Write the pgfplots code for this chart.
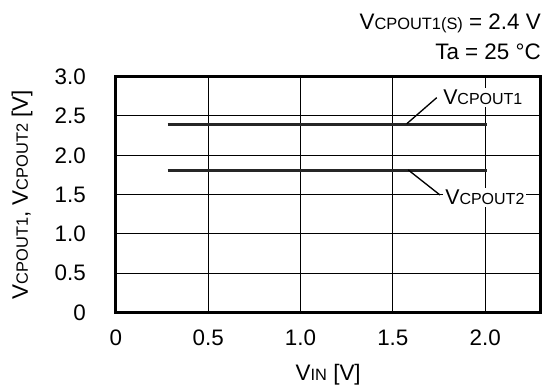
\documentclass[border=0pt]{standalone}
\usepackage{fontspec}
\setmainfont{Liberation Sans}
\usepackage{pgfplots}
\pgfplotsset{compat=1.18}
\newcommand{\mainsize}{\fontsize{16.8}{16.8}\selectfont}
\newcommand{\sub}[1]{{\fontsize{12.3}{12.3}\selectfont #1}}
\newcommand{\lsub}[1]{{\fontsize{12}{12}\selectfont #1}}
\begin{document}
\begin{tikzpicture}
\useasboundingbox (0,0) rectangle (407.25pt,288.75pt);
\begin{axis}[
  at={(86.85pt,54.375pt)}, anchor=south west,
  scale only axis, width=318.6pt, height=176.85pt,
  xmin=0, xmax=2.3, ymin=0, ymax=3,
  xtick={0,0.5,1,1.5,2}, ytick={0,0.5,1,1.5,2,2.5,3},
  xticklabels={0,0.5,1.0,1.5,2.0},
  yticklabels={0,0.5,1.0,1.5,2.0,2.5,3.0},
  grid=major, grid style={black, line width=0.75pt},
  major tick length=0pt,
  axis line style={line width=2pt},
  ticklabel style={font=\mainsize},
  /pgf/number format/assume math mode=true,
  xticklabel style={yshift=-9.5pt},
  yticklabel style={xshift=-19pt},
  xlabel={V\sub{IN} [V]},
  ylabel={V\sub{CPOUT1}, V\sub{CPOUT2} [V]},
  label style={font=\mainsize},
  xlabel style={at={(axis description cs:0.5,0)}, anchor=base, yshift=-51pt},
  ylabel style={at={(axis description cs:-0.2208,0.5)}, anchor=center},
  clip=false,
]
\addplot[line width=2.4pt, black!85] coordinates {(0.28,2.39) (0.5,2.39) (1.0,2.39) (1.5,2.39) (2.0,2.39) (2.01,2.39)};
\addplot[line width=2.4pt, black!85] coordinates {(0.28,1.81) (0.5,1.81) (1.0,1.81) (1.5,1.81) (2.0,1.81) (2.01,1.81)};
\end{axis}
\begin{scope}[x=0.75pt,y=-0.75pt,shift={(0pt,288.75pt)}]
  \draw[line width=1pt] (406.7,123.8) -- (436.7,97.7);
  \node[anchor=base west, fill=white, inner sep=1.5pt, font=\fontsize{16}{16}\selectfont] at (441,105) {V\lsub{CPOUT1}};
  \draw[line width=1pt] (408.3,170) -- (440,195);
  \node[anchor=base west, fill=white, inner sep=1.5pt, font=\fontsize{16}{16}\selectfont] at (443,205) {V\lsub{CPOUT2}};
  \node[anchor=base east, inner sep=0pt, font=\mainsize] at (541,30) {V\sub{CPOUT1(S)} = 2.4 V};
  \node[anchor=base east, inner sep=0pt, font=\mainsize] at (541,60) {Ta = 25 °C};
\end{scope}
\end{tikzpicture}
\end{document}
